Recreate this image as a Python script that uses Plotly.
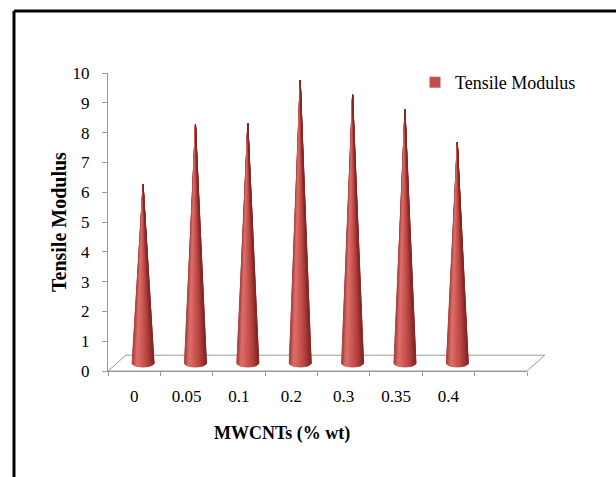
import numpy as np
import plotly.graph_objects as go

# ---------------- data ----------------
categories = ["0", "0.05", "0.1", "0.2", "0.3", "0.35", "0.4"]
tensile_modulus = [6.0, 8.0, 8.05, 9.5, 9.0, 8.5, 7.4]
y_tick_values = list(range(0, 11))
series_name = "Tensile Modulus"
x_title = "MWCNTs (% wt)"
y_title = "Tensile Modulus"

# ---------------- layout constants ----------------
W, H = 616, 477
M_L, M_R, M_T, M_B = 108, 89, 73, 106
n_slots = len(categories) + 1          # one empty slot on the right (Excel 3D)
x_lo, x_hi = -0.5, n_slots - 0.5
y_lo, y_hi = 0, 10

depth_dx = 0.34     # 3D floor depth in category units
depth_dy = 0.53     # 3D floor depth in value units
cone_dx = depth_dx / 2
cone_dy = depth_dy / 2
cone_hw = 0.21      # half width of cone base (category units)
cone_ry = 0.13      # vertical semi-axis of base ellipse (value units)

FONT = "Liberation Serif, Times New Roman, serif"
AXIS_GREY = "#9A9A9A"
RED = "#C0504D"

fig = go.Figure()

# ---------------- shaded cones ----------------
n_slices = 28
thetas = np.linspace(np.pi, 2 * np.pi, n_slices + 1)
stops = [(0.0, (170, 62, 59)), (0.22, (222, 114, 110)), (0.42, (210, 94, 90)),
         (0.72, (180, 68, 65)), (1.0, (130, 40, 38))]


def shade(s):
    for (s0, c0), (s1, c1) in zip(stops[:-1], stops[1:]):
        if s0 <= s <= s1:
            f = (s - s0) / (s1 - s0)
            return "rgb(%d,%d,%d)" % tuple(round(a + (b - a) * f) for a, b in zip(c0, c1))
    return "rgb(%d,%d,%d)" % stops[-1][1]


centers = [i + cone_dx for i in range(len(categories))]
tips = [v + cone_dy for v in tensile_modulus]

# base silhouette in mid colour (avoids seams)
bx, by = [], []
for c, t in zip(centers, tips):
    ex = c + cone_hw * np.cos(thetas)
    ey = cone_dy + cone_ry * np.sin(thetas)
    bx += [c] + list(ex) + [c, None]
    by += [t] + list(ey) + [t, None]
fig.add_trace(go.Scatter(x=bx, y=by, mode="lines", fill="toself", fillcolor=RED,
                         line=dict(color=RED, width=0.5), hoverinfo="skip",
                         showlegend=False))

for k in range(n_slices):
    th0, th1 = thetas[k], thetas[k + 1]
    s = (np.cos((th0 + th1) / 2) + 1) / 2
    col = shade(s)
    xs, ys = [], []
    for c, t in zip(centers, tips):
        xs += [c, c + cone_hw * np.cos(th0), c + cone_hw * np.cos(th1), c, None]
        ys += [t, cone_dy + cone_ry * np.sin(th0), cone_dy + cone_ry * np.sin(th1), t, None]
    fig.add_trace(go.Scatter(x=xs, y=ys, mode="lines", fill="toself", fillcolor=col,
                             line=dict(color=col, width=0.6), hoverinfo="skip",
                             showlegend=False))

# legend entry
fig.add_trace(go.Scatter(x=[None], y=[None], mode="markers", name=series_name,
                         marker=dict(symbol="square", size=11, color=RED)))


# ---------------- 3D floor (paper coords computed from axis ranges) ----------------
def px(x):
    return (x - x_lo) / (x_hi - x_lo)


def py(y):
    return (y - y_lo) / (y_hi - y_lo)


floor_path = "M {a},{b} L {c},{b} L {d},{e} L {f},{e} Z".format(
    a=px(x_lo), b=py(y_lo), c=px(x_hi), d=px(x_hi + depth_dx), e=py(y_lo + depth_dy),
    f=px(x_lo + depth_dx))
fig.add_shape(type="path", path=floor_path, xref="paper", yref="paper",
              line=dict(color=AXIS_GREY, width=1), fillcolor="rgba(0,0,0,0)", layer="below")

# ---------------- outer frame (top & left) ----------------
pw, ph = W - M_L - M_R, H - M_T - M_B
fx = (14 - M_L) / pw
fy = (H - M_B - 11) / ph
fig.add_shape(type="line", xref="paper", yref="paper", x0=fx, y0=fy, x1=(W - M_L) / pw, y1=fy,
              line=dict(color="black", width=3))
fig.add_shape(type="line", xref="paper", yref="paper", x0=fx, y0=fy, x1=fx, y1=-M_B / ph,
              line=dict(color="black", width=3))

# ---------------- titles ----------------
fig.add_annotation(text="<b>%s</b>" % x_title, xref="paper", yref="paper",
                   x=(282 - M_L) / pw, y=(H - M_B - 433) / ph, showarrow=False,
                   xanchor="center", yanchor="middle",
                   font=dict(family=FONT, size=18, color="black"))
fig.add_annotation(text="<b>%s</b>" % y_title, xref="paper", yref="paper",
                   x=(59 - M_L) / pw, y=(H - M_B - 222) / ph, showarrow=False, textangle=-90,
                   xanchor="center", yanchor="middle",
                   font=dict(family=FONT, size=20, color="black"))

tickfont = dict(family=FONT, size=17, color="black")
fig.update_layout(
    width=W, height=H,
    margin=dict(l=M_L, r=M_R, t=M_T, b=M_B, pad=0),
    paper_bgcolor="white", plot_bgcolor="white",
    font=dict(family=FONT, size=17, color="black"),
    showlegend=True,
    legend=dict(x=(415 - M_L) / pw, y=(H - M_B - 64) / ph, xanchor="left", yanchor="top",
                bgcolor="rgba(0,0,0,0)", font=dict(family=FONT, size=18, color="black"),
                itemwidth=30, borderwidth=0),
    xaxis=dict(range=[x_lo, x_hi], tickmode="array", tickvals=list(range(len(categories))),
               ticktext=categories, tickfont=tickfont, showgrid=False, zeroline=False,
               showline=True, linecolor=AXIS_GREY, linewidth=1, ticks="",
               ticklabelstandoff=10,
               minor=dict(ticks="outside", tick0=-0.5, dtick=1, ticklen=4,
                          tickcolor=AXIS_GREY, showgrid=False),
               fixedrange=True),
    yaxis=dict(range=[y_lo, y_hi], tickmode="array", tickvals=y_tick_values,
               tickfont=tickfont, showgrid=False, zeroline=False, showline=True,
               linecolor=AXIS_GREY, linewidth=1, ticks="outside", ticklen=5,
               tickcolor=AXIS_GREY, ticklabelstandoff=9, fixedrange=True),
)

fig.write_html("out.html")
